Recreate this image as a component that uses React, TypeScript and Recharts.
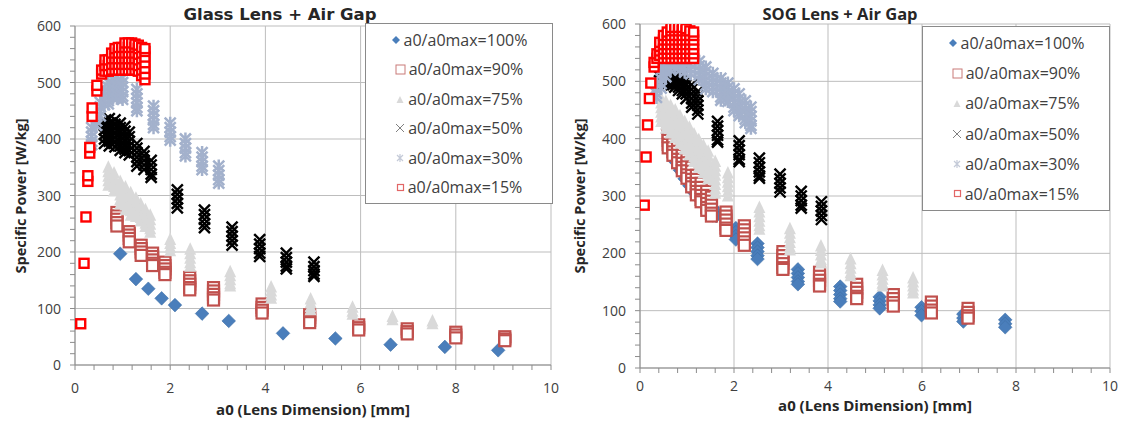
import React from 'react';
import { ScatterChart, Scatter, XAxis, YAxis, CartesianGrid } from 'recharts';

// ---------- axis ticks ----------
const xTicks = [0, 0.4, 0.8, 1.2, 1.6, 2, 2.4, 2.8, 3.2, 3.6, 4, 4.4, 4.8, 5.2, 5.6, 6, 6.4, 6.8, 7.2, 7.6, 8, 8.4, 8.8, 9.2, 9.6, 10];
const xMajor = [0, 2, 4, 6, 8, 10];
const yTicks = [0, 20, 40, 60, 80, 100, 120, 140, 160, 180, 200, 220, 240, 260, 280, 300, 320, 340, 360, 380, 400, 420, 440, 460, 480, 500, 520, 540, 560, 580, 600];
const yMajor = [0, 100, 200, 300, 400, 500, 600];

const seriesNames = ['a0/a0max=100%', 'a0/a0max=90%', 'a0/a0max=75%', 'a0/a0max=50%', 'a0/a0max=30%', 'a0/a0max=15%'];
const titles = ['Glass Lens + Air Gap', 'SOG Lens + Air Gap'];
const xLabel = 'a0 (Lens Dimension) [mm]';
const yLabel = 'Specific Power [W/kg]';

// Each series: list of columns [a0 (mm), specific power values (W/kg)...]
// ---------- Glass Lens + Air Gap ----------
const glass100: number[][] = [
  [0.95, 197], [1.28, 152], [1.54, 135], [1.82, 118], [2.1, 106], [2.67, 91], [3.23, 78],
  [4.37, 56], [5.47, 47], [6.63, 36], [7.77, 32], [8.89, 26],
];
const glass90: number[][] = [
  [0.88, 270, 264, 258, 252, 246],
  [1.14, 236, 230, 224, 218],
  [1.39, 212, 206, 200, 194],
  [1.63, 198, 192, 186, 180, 176],
  [1.89, 182, 176, 170, 164, 160],
  [2.41, 155, 149, 143, 137, 133],
  [2.91, 137, 131, 125, 119, 115],
  [3.93, 108, 102, 97, 92],
  [4.93, 89, 84, 79, 75],
  [5.96, 71, 66, 62],
  [6.98, 64, 59, 55],
  [8.0, 58, 53, 48],
  [9.03, 50, 46, 43],
];
const glass75: number[][] = [
  [0.7, 350, 342, 334, 326, 318],
  [0.82, 340, 332, 324, 316, 308],
  [0.95, 325, 317, 309, 301, 293, 285],
  [1.06, 315, 307, 299, 291, 283, 275],
  [1.17, 305, 297, 289, 281, 273, 265],
  [1.28, 295, 287, 279, 271, 263],
  [1.38, 285, 277, 269, 261, 255],
  [1.48, 275, 267, 259, 251, 245],
  [1.58, 265, 257, 249, 241, 235],
  [2.0, 222, 215, 208, 202],
  [2.42, 205, 197, 189, 181, 175],
  [3.26, 165, 158, 151, 144, 140],
  [4.12, 138, 131, 124, 118],
  [4.95, 117, 110, 103, 98],
  [5.83, 102, 95, 90],
  [6.67, 86, 80],
  [7.51, 78, 73],
];
const glass50: number[][] = [
  [0.62, 432, 424, 416, 408, 400, 392],
  [0.72, 436, 428, 420, 412, 404, 396, 388],
  [0.84, 434, 426, 418, 410, 402, 394, 386],
  [0.95, 428, 420, 412, 404, 396, 388, 380],
  [1.05, 422, 414, 406, 398, 390, 382, 376],
  [1.14, 412, 404, 396, 388, 380, 372],
  [1.3, 392, 384, 376, 368, 360, 352],
  [1.45, 378, 370, 362, 354, 346],
  [1.6, 362, 354, 346, 338, 332],
  [2.15, 310, 302, 294, 286, 278],
  [2.72, 274, 266, 258, 250, 243],
  [3.3, 244, 236, 228, 220, 212],
  [3.88, 222, 214, 206, 198, 192],
  [4.44, 198, 190, 182, 175, 170],
  [5.02, 182, 174, 167, 161, 157],
];
const glass30: number[][] = [
  [0.35, 420, 412, 404, 396, 390],
  [0.45, 440, 432, 424],
  [0.53, 465, 457, 449, 441],
  [0.62, 485, 477, 469, 461],
  [0.7, 500, 492, 484, 476, 468, 462],
  [0.8, 505, 497, 489, 481, 473],
  [0.88, 510, 502, 494, 486, 478, 472],
  [1.0, 508, 500, 492, 484, 476, 470],
  [1.3, 488, 480, 472, 464, 456, 450],
  [1.65, 458, 450, 442, 434, 426, 420],
  [2.0, 428, 420, 412, 404, 398],
  [2.32, 400, 392, 384, 376, 370],
  [2.67, 376, 368, 360, 352, 346],
  [3.02, 352, 344, 336, 328, 322],
];
const glass15: number[][] = [
  [0.12, 73], [0.19, 180], [0.23, 262],
  [0.27, 325, 335], [0.31, 375, 385],
  [0.36, 440, 455], [0.46, 485, 495],
  [0.56, 515, 522],
  [0.63, 520, 530, 540],
  [0.7, 520, 530, 540],
  [0.77, 522, 532, 542, 552],
  [0.84, 522, 532, 542, 552, 560],
  [0.91, 522, 532, 542, 552, 562],
  [0.98, 522, 532, 542, 552, 562],
  [1.05, 522, 532, 542, 552, 562, 570],
  [1.12, 522, 532, 542, 552, 562, 570],
  [1.19, 522, 532, 542, 552, 562, 570],
  [1.26, 522, 532, 542, 552, 562, 568],
  [1.33, 520, 530, 540, 550, 560, 566],
  [1.4, 512, 522, 532, 542, 552, 562],
  [1.47, 505, 515, 525, 535, 545, 555, 560],
];

// ---------- SOG Lens + Air Gap ----------
const sog100: number[][] = [
  [0.65, 385, 378], [0.75, 368, 360], [0.85, 352, 345], [0.95, 338, 330], [1.05, 325, 318],
  [1.15, 312, 306], [1.25, 302, 296], [1.35, 293, 287], [1.45, 285, 279],
  [1.55, 280, 272, 266], [1.62, 272, 265],
  [2.04, 244, 237, 230, 224],
  [2.5, 217, 210, 203, 196, 190],
  [3.36, 172, 165, 158, 151, 146],
  [4.26, 142, 135, 128, 121, 116],
  [5.1, 124, 117, 110, 104],
  [5.99, 106, 99, 92],
  [6.88, 94, 87, 81],
  [7.77, 84, 77, 71],
];
const sog90: number[][] = [
  [0.6, 418, 411, 404, 397, 390, 384],
  [0.7, 405, 398, 391, 384, 377, 371],
  [0.8, 392, 385, 378, 371, 364, 358],
  [0.9, 378, 371, 364, 357, 350, 344],
  [1.0, 365, 358, 351, 344, 337, 331],
  [1.1, 350, 343, 336, 329, 322, 316],
  [1.2, 336, 329, 322, 315, 308, 302],
  [1.3, 322, 315, 308, 301, 294, 290],
  [1.42, 308, 301, 294, 287, 280, 275],
  [1.52, 298, 291, 284, 277, 270, 265],
  [1.83, 272, 265, 258, 251, 244, 240],
  [2.22, 248, 241, 234, 227, 220, 214],
  [3.04, 203, 196, 189, 182, 175, 172],
  [3.82, 167, 160, 153, 146, 143],
  [4.61, 146, 139, 132, 125, 121],
  [5.39, 128, 121, 114, 108],
  [6.2, 115, 108, 101, 96],
  [6.98, 104, 97, 91, 87],
];
const sog75: number[][] = [
  [0.45, 470, 462, 454, 446, 438, 430],
  [0.55, 465, 457, 449, 441, 433, 425, 418],
  [0.65, 458, 450, 442, 434, 426, 418, 410],
  [0.75, 450, 442, 434, 426, 418, 410, 402],
  [0.85, 440, 432, 424, 416, 408, 400, 392],
  [0.95, 430, 422, 414, 406, 398, 390, 382],
  [1.05, 420, 412, 404, 396, 388, 380, 372],
  [1.15, 408, 400, 392, 384, 376, 368, 360],
  [1.25, 398, 390, 382, 374, 366, 358, 350],
  [1.35, 388, 380, 372, 364, 356, 348, 340],
  [1.45, 378, 370, 362, 354, 346, 338, 330],
  [1.6, 360, 352, 344, 336, 328, 320, 312, 305],
  [1.87, 340, 332, 324, 316, 308, 300],
  [2.54, 280, 272, 264, 256, 248, 242],
  [3.19, 243, 235, 227, 219, 211, 206],
  [3.85, 213, 205, 197, 189, 183],
  [4.48, 190, 182, 174, 166, 161],
  [5.16, 170, 162, 155, 148, 143],
  [5.81, 157, 150, 143, 136, 131],
];
const sog50: number[][] = [
  [0.42, 525, 517, 509, 501],
  [0.5, 532, 524, 516, 508, 500, 494],
  [0.58, 534, 526, 518, 510, 502, 496],
  [0.66, 532, 524, 516, 508, 500, 494],
  [0.74, 528, 520, 512, 504, 496, 490],
  [0.82, 522, 514, 506, 498, 490, 484],
  [0.9, 516, 508, 500, 492, 484, 478],
  [0.98, 502, 494, 486, 478, 470],
  [1.1, 494, 486, 478, 470, 462, 455],
  [1.23, 482, 474, 466, 458, 450, 443],
  [1.65, 430, 422, 414, 406, 398, 394],
  [2.11, 396, 388, 380, 372, 364, 360],
  [2.54, 366, 358, 350, 342, 335, 331],
  [2.98, 338, 330, 322, 314, 307],
  [3.43, 308, 300, 292, 284, 279],
  [3.86, 290, 282, 274, 266, 259],
];
const sog30: number[][] = [
  [0.35, 495, 487, 479, 472],
  [0.45, 520, 512, 504, 496, 488],
  [0.55, 548, 540, 532, 524, 516, 508],
  [0.65, 552, 544, 536, 528, 520],
  [0.75, 555, 547, 539, 531, 523],
  [0.85, 552, 544, 536, 528, 520],
  [0.95, 548, 540, 532, 524, 516],
  [1.08, 545, 537, 529, 521, 513],
  [1.26, 535, 527, 519, 511, 503],
  [1.4, 525, 517, 509, 501, 493, 487],
  [1.55, 514, 506, 498, 490, 482],
  [1.72, 505, 497, 489, 481, 473, 467],
  [1.87, 497, 489, 481, 473, 465],
  [2.0, 487, 479, 471, 463, 455, 449],
  [2.11, 478, 470, 462, 454, 446, 440],
  [2.24, 466, 458, 450, 442, 434, 428],
  [2.36, 455, 447, 439, 431, 423, 418],
];
const sog15: number[][] = [
  [0.09, 284], [0.13, 368], [0.16, 424], [0.2, 470], [0.23, 497],
  [0.3, 525, 533],
  [0.36, 540, 548],
  [0.42, 545, 553, 561, 568],
  [0.5, 540, 548, 556, 564, 572, 580],
  [0.58, 540, 548, 556, 564, 572, 580, 586],
  [0.66, 540, 548, 556, 564, 572, 580, 588, 594],
  [0.74, 540, 548, 556, 564, 572, 580, 588, 594],
  [0.82, 540, 548, 556, 564, 572, 580, 588, 594],
  [0.9, 540, 548, 556, 564, 572, 580, 588, 594],
  [0.98, 540, 548, 556, 564, 572, 580, 588, 592],
  [1.06, 540, 548, 556, 564, 572, 580, 588],
  [1.14, 540, 548, 556, 564, 572, 580, 586],
];

const toPts = (cols: number[][]) =>
  cols.flatMap(([x, ...ys]) => ys.map((y) => ({ x, y })));

// ---------- colours ----------
const C100 = '#4a7ebb';
const C90 = '#c0504d';
const C75 = '#d9d9d9';
const C50 = '#000000';
const C30 = '#a3b1cc';
const C15 = '#ff0000';

// ---------- marker shapes ----------
const Diamond = (p: any) => {
  const { cx, cy } = p; const r = 6.8;
  return <path d={`M${cx},${cy - r}L${cx + r},${cy}L${cx},${cy + r}L${cx - r},${cy}Z`} fill={C100} stroke="#3e6fa6" strokeWidth={0.6} />;
};
const Square = (p: any) => {
  const { cx, cy } = p;
  return <rect x={cx - 5.5} y={cy - 5.5} width={11} height={11} fill="#ffffff" stroke={C90} strokeWidth={2.2} />;
};
const Tri = (p: any) => {
  const { cx, cy } = p;
  return <path d={`M${cx},${cy - 7}L${cx + 6},${cy + 5.5}L${cx - 6},${cy + 5.5}Z`} fill={C75} />;
};
const XMark = (p: any) => {
  const { cx, cy } = p; const r = 5.5;
  return <path d={`M${cx - r},${cy - r}L${cx + r},${cy + r}M${cx + r},${cy - r}L${cx - r},${cy + r}`} stroke={C50} strokeWidth={2.4} fill="none" />;
};
const Star = (p: any) => {
  const { cx, cy } = p; const r = 5.5;
  return <path d={`M${cx - r},${cy - r}L${cx + r},${cy + r}M${cx + r},${cy - r}L${cx - r},${cy + r}M${cx},${cy - r - 1}L${cx},${cy + r + 1}`} stroke={C30} strokeWidth={2.5} fill="none" />;
};
const SmallSq = (p: any) => {
  const { cx, cy } = p;
  return <rect x={cx - 4.5} y={cy - 4.5} width={9} height={9} fill="#ffffff" stroke={C15} strokeWidth={2.4} />;
};

// ---------- ticks ----------
const isMajorX = (v: number) => xMajor.some((m) => Math.abs(m - v) < 1e-6);
const isMajorY = (v: number) => yMajor.some((m) => Math.abs(m - v) < 1e-6);
const tickFont = { fontFamily: 'Open Sans', fontSize: 14, fill: '#404040' };

const makeXTick = (dy: number) => (p: any) => {
  const { x, y, payload } = p;
  if (!isMajorX(payload.value)) return <g />;
  return <text x={x} y={y + dy} textAnchor="middle" {...tickFont}>{payload.value}</text>;
};
const YTick = (p: any) => {
  const { x, y, payload } = p;
  if (!isMajorY(payload.value)) return <g />;
  return <text x={x - 7} y={y + 5} textAnchor="end" {...tickFont}>{payload.value}</text>;
};

type PanelData = { d100: number[][]; d90: number[][]; d75: number[][]; d50: number[][]; d30: number[][]; d15: number[][] };

const Panel = ({ data, width, margin, tickDy }: { data: PanelData; width: number; margin: any; tickDy: number }) => (
  <ScatterChart width={width} height={425} margin={margin}>
    <CartesianGrid stroke="#bdbdbd" strokeWidth={1} horizontalValues={yMajor} verticalValues={xMajor} />
    <XAxis type="number" dataKey="x" domain={[0, 10]} ticks={xTicks} interval={0} height={45}
      axisLine={{ stroke: '#8c8c8c' }} tickLine={{ stroke: '#8c8c8c' }} tickSize={5} tick={makeXTick(tickDy)} allowDataOverflow />
    <YAxis type="number" dataKey="y" domain={[0, 600]} ticks={yTicks} interval={0} width={50}
      axisLine={{ stroke: '#8c8c8c' }} tickLine={{ stroke: '#8c8c8c' }} tickSize={5} tick={YTick} allowDataOverflow />
    <Scatter name={seriesNames[0]} data={toPts(data.d100)} shape={Diamond} isAnimationActive={false} />
    <Scatter name={seriesNames[1]} data={toPts(data.d90)} shape={Square} isAnimationActive={false} />
    <Scatter name={seriesNames[2]} data={toPts(data.d75)} shape={Tri} isAnimationActive={false} />
    <Scatter name={seriesNames[3]} data={toPts(data.d50)} shape={XMark} isAnimationActive={false} />
    <Scatter name={seriesNames[4]} data={toPts(data.d30)} shape={Star} isAnimationActive={false} />
    <Scatter name={seriesNames[5]} data={toPts(data.d15)} shape={SmallSq} isAnimationActive={false} />
  </ScatterChart>
);

// ---------- legend ----------
const legendIcons = [
  <svg width={10} height={10} key="a"><path d="M5,1L9,5L5,9L1,5Z" fill={C100} /></svg>,
  <svg width={11} height={11} key="b"><rect x={1} y={1} width={9} height={9} fill="#fff" stroke="#c97b79" strokeWidth={1} /></svg>,
  <svg width={10} height={10} key="c"><path d="M5,2L8.5,9L1.5,9Z" fill={C75} /></svg>,
  <svg width={10} height={10} key="d"><path d="M1,1L9,9M9,1L1,9" stroke="#808080" strokeWidth={1} /></svg>,
  <svg width={10} height={10} key="e"><path d="M2,2L8,8M8,2L2,8M5,1L5,9" stroke="#c4cad8" strokeWidth={1.2} /></svg>,
  <svg width={9} height={9} key="f"><rect x={1.5} y={1.5} width={6} height={6} fill="#fff" stroke="#e26666" strokeWidth={1.2} /></svg>,
];

const Legend = ({ left, top, width, height }: { left: number; top: number; width: number; height: number }) => (
  <div style={{
    position: 'absolute', left, top, width, height, boxSizing: 'border-box', border: '1px solid #8a8a8a',
    background: '#fff', display: 'flex', flexDirection: 'column', justifyContent: 'center', alignItems: 'center',
  }}>
    {seriesNames.map((n, i) => (
      <div key={n} style={{ display: 'flex', alignItems: 'center', height: (height - 4) / 6, fontFamily: 'Open Sans', fontSize: 16, color: '#404040', whiteSpace: 'nowrap' }}>
        <span style={{ display: 'inline-flex', marginRight: 3 }}>{legendIcons[i]}</span>
        <span>{n}</span>
      </div>
    ))}
  </div>
);

export default function App() {
  const glass: PanelData = { d100: glass100, d90: glass90, d75: glass75, d50: glass50, d30: glass30, d15: glass15 };
  const sog: PanelData = { d100: sog100, d90: sog90, d75: sog75, d50: sog50, d30: sog30, d15: sog15 };
  return (
    <div style={{ position: 'absolute', left: 0, top: 0, width: 1122, height: 425, background: '#ffffff', overflow: 'hidden' }}>
      <div style={{ position: 'absolute', left: 0, top: 0 }}>
        <Panel data={glass} width={570} margin={{ top: 26, right: 19, bottom: 15, left: 25 }} tickDy={21} />
      </div>
      <div style={{ position: 'absolute', left: 565, top: 0 }}>
        <Panel data={sog} width={557} margin={{ top: 24, right: 12, bottom: 12, left: 25 }} tickDy={16} />
      </div>
      <Legend left={365} top={23} width={188} height={181} />
      <Legend left={922} top={26} width={188} height={185} />
      <svg width={1122} height={425} style={{ position: 'absolute', left: 0, top: 0, pointerEvents: 'none' }}>
        <text x={280} y={20} textAnchor="middle" fontFamily="DejaVu Sans" fontWeight="bold" fontSize={16.5} fill="#262626">{titles[0]}</text>
        <text x={840} y={20} textAnchor="middle" fontFamily="Open Sans" fontWeight="bold" fontSize={16.5} fill="#262626">{titles[1]}</text>
        <text x={313} y={415} textAnchor="middle" fontFamily="Open Sans" fontWeight="bold" fontSize={15} fill="#262626">{xLabel}</text>
        <text x={875} y={411} textAnchor="middle" fontFamily="Open Sans" fontWeight="bold" fontSize={15} fill="#262626">{xLabel}</text>
        <text x={26} y={196} textAnchor="middle" transform="rotate(-90 26 196)" fontFamily="Open Sans" fontWeight="bold" fontSize={14.5} fill="#262626">{yLabel}</text>
        <text x={585} y={196} textAnchor="middle" transform="rotate(-90 585 196)" fontFamily="Open Sans" fontWeight="bold" fontSize={14.5} fill="#262626">{yLabel}</text>
      </svg>
    </div>
  );
}
